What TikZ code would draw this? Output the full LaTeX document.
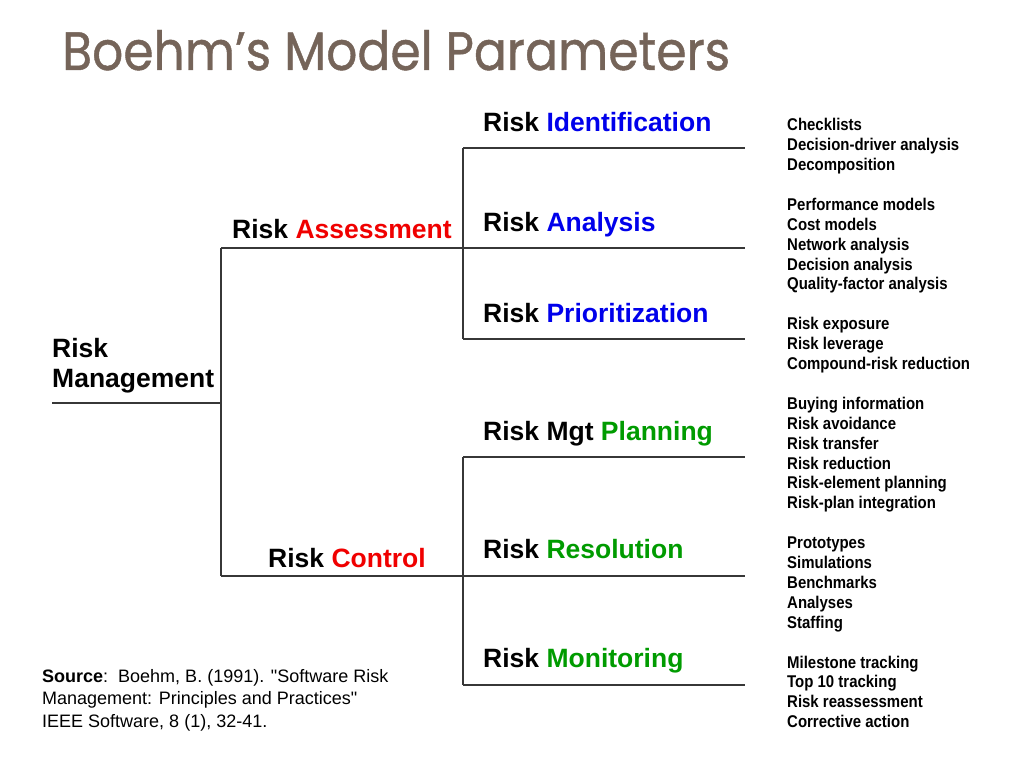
\documentclass[tikz,border=0pt]{standalone}
\usepackage{fontspec}
\setmainfont{Liberation Sans}
\newfontfamily\listfont[FakeStretch=0.88]{Liberation Sans}
\newfontfamily\srcfont[Ligatures=TeXOff]{Liberation Sans}
\newfontfamily\titlefont[FakeBold=0.8]{Poppins}
\definecolor{titlebrown}{RGB}{117,100,89}
\definecolor{riskblue}{RGB}{0,0,235}
\definecolor{riskred}{RGB}{240,0,0}
\definecolor{riskgreen}{RGB}{0,155,0}
\definecolor{linegray}{RGB}{55,55,55}
\tikzset{
  big/.style={anchor=base west, inner sep=0pt, font=\fontsize{26.5}{30}\selectfont\bfseries},
  item/.style={anchor=base west, inner sep=0pt, font=\listfont\fontsize{17}{19.9}\selectfont\bfseries},
  src/.style={anchor=base west, inner sep=0pt, font=\srcfont\fontsize{18}{22.5}\selectfont},
  branch/.style={draw=linegray, line width=1.5pt},
}
\newcommand{\blue}[1]{\textcolor{riskblue}{#1}}
\newcommand{\red}[1]{\textcolor{riskred}{#1}}
\newcommand{\grn}[1]{\textcolor{riskgreen}{#1}}
\newcommand{\col}[1]{\begin{tabular}[t]{@{}l@{}}#1\end{tabular}}
\begin{document}
\begin{tikzpicture}[x=1pt,y=-1pt]
\useasboundingbox[fill=white] (0,0) rectangle (1024,768);

% title
\node[anchor=base west, inner sep=0pt, text=titlebrown] (title) at (62,70)
  {\resizebox{668pt}{40pt}{\titlefont Boehm’s Model Parameters}};

% tree coordinates
\coordinate (rmL) at (52,403);
\coordinate (rmR) at (221,403);
\coordinate (asL) at (221,248);
\coordinate (asR) at (463,248);
\coordinate (ctL) at (221,576);
\coordinate (ctR) at (463,576);
\coordinate (idL) at (463,148);
\coordinate (idR) at (745,148);
\coordinate (anR) at (745,248);
\coordinate (prL) at (463,339);
\coordinate (prR) at (745,339);
\coordinate (plL) at (463,457);
\coordinate (plR) at (745,457);
\coordinate (reR) at (745,576);
\coordinate (moL) at (463,685);
\coordinate (moR) at (745,685);

% connectors
\draw[branch] (rmL) -- (rmR);
\draw[branch] (asL) -- (ctL);
\draw[branch] (asL) -- (asR);
\draw[branch] (ctL) -- (ctR);
\draw[branch] (idL) -- (prL);
\draw[branch] (idL) -- (idR);
\draw[branch] (asR) -- (anR);
\draw[branch] (prL) -- (prR);
\draw[branch] (plL) -- (moL);
\draw[branch] (plL) -- (plR);
\draw[branch] (ctR) -- (reR);
\draw[branch] (moL) -- (moR);

% main labels
\node[big] (mgmt) at (52,357) {\col{Risk\\Management}};
\node[big] (assess) at (232,238) {Risk \red{Assessment}};
\node[big] (control) at (268,567) {Risk \red{Control}};
\node[big] (ident) at (483,131) {Risk \blue{Identification}};
\node[big] (anal) at (483,231) {Risk \blue{Analysis}};
\node[big] (prio) at (483,322) {Risk \blue{Prioritization}};
\node[big] (plan) at (483,440) {Risk Mgt \grn{Planning}};
\node[big] (resol) at (483,558) {Risk \grn{Resolution}};
\node[big] (monit) at (483,667) {Risk \grn{Monitoring}};

% technique lists
\node[item] (g1) at (787,130.7) {\col{Checklists\\Decision-driver analysis\\Decomposition}};
\node[item] (g2) at (787,210.3) {\col{Performance models\\Cost models\\Network analysis\\Decision analysis\\Quality-factor analysis}};
\node[item] (g3) at (787,329.7) {\col{Risk exposure\\Risk leverage\\Compound-risk reduction}};
\node[item] (g4) at (787,409.3) {\col{Buying information\\Risk avoidance\\Risk transfer\\Risk reduction\\Risk-element planning\\Risk-plan integration}};
\node[item] (g5) at (787,548.6) {\col{Prototypes\\Simulations\\Benchmarks\\Analyses\\Staffing}};
\node[item] (g6) at (787,668) {\col{Milestone tracking\\Top 10 tracking\\Risk reassessment\\Corrective action}};

% source
\node[src] (source) at (42,682) {\col{\textbf{Source}:\ \ Boehm, B. (1991). "Software Risk\\Management: Principles and Practices"\\IEEE Software, 8 (1), 32-41.}};
\end{tikzpicture}
\end{document}
